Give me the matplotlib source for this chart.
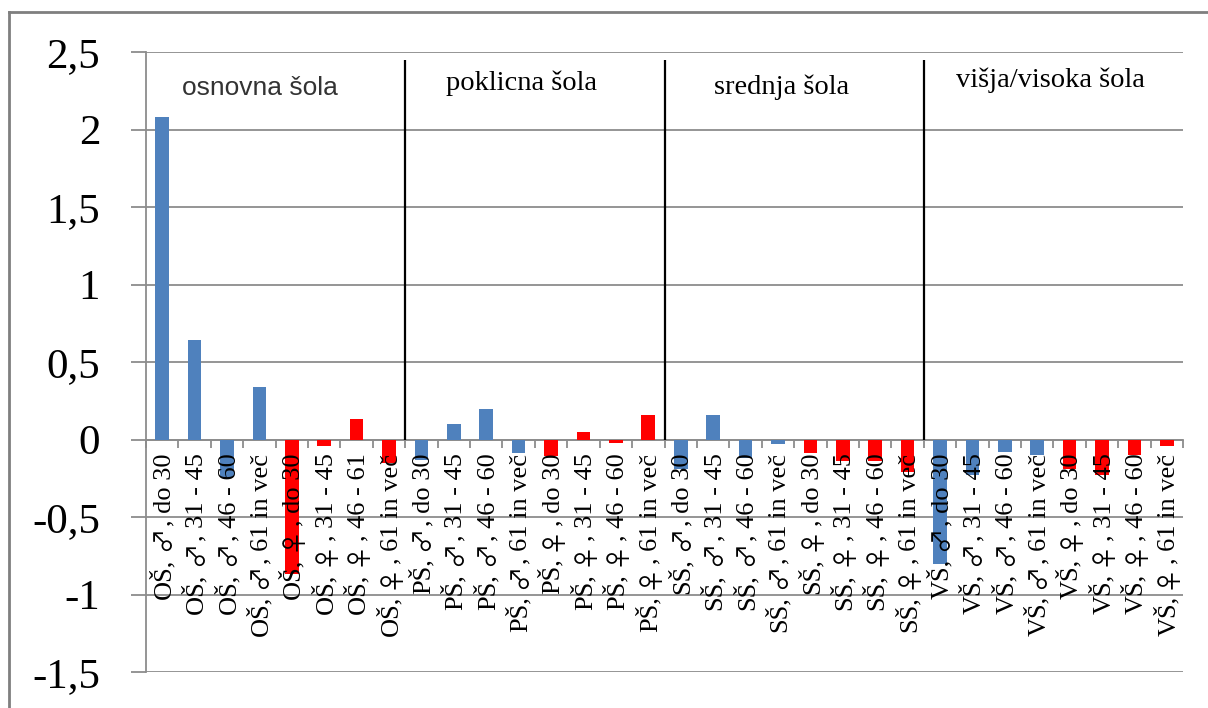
"""Bar chart of deviations by school level, sex and age group."""
import matplotlib
matplotlib.use("Agg")
import matplotlib.pyplot as plt
from matplotlib.lines import Line2D
from matplotlib.font_manager import FontProperties
from matplotlib.ticker import FixedLocator

# data
levels = ["OŠ", "PŠ", "SŠ", "VŠ"]
level_titles = ["osnovna šola", "poklicna šola", "srednja šola", "višja/visoka šola"]
sexes = ["♂", "♂", "♂", "♂", "♀", "♀", "♀", "♀"]
ages_os = ["do 30", "31 - 45", "46 - 60", "61 in več", "do 30", "31 - 45", "46 - 61", "61 in več"]
ages = ["do 30", "31 - 45", "46 - 60", "61 in več", "do 30", "31 - 45", "46 - 60", "61 in več"]

os_vals = [2.08, 0.64, -0.245, 0.34, -0.87, -0.04, 0.135, -0.15]
ps_vals = [-0.135, 0.10, 0.20, -0.085, -0.105, 0.05, -0.02, 0.16]
ss_vals = [-0.19, 0.16, -0.12, -0.03, -0.085, -0.14, -0.14, -0.21]
vs_vals = [-0.80, -0.23, -0.08, -0.10, -0.19, -0.23, -0.10, -0.04]

y_ticks = [2.5, 2, 1.5, 1, 0.5, 0, -0.5, -1, -1.5]
y_labels = ["2,5", "2", "1,5", "1", "0,5", "0", "-0,5", "-1", "-1,5"]

BLUE = "#4f81bd"
RED = "#ff0000"
GRID = "#8c8c8c"
SERIF = ["Liberation Serif", "DejaVu Serif"]
LABEL_SIZE = 19

label_parts = []
values = []
colors = []
for lvl, vals in zip(levels, [os_vals, ps_vals, ss_vals, vs_vals]):
    age_list = ages_os if lvl == "OŠ" else ages
    for i, (s, a, v) in enumerate(zip(sexes, age_list, vals)):
        label_parts.append((f"{lvl},", s, f", {a}"))
        values.append(v)
        colors.append(BLUE if i < 4 else RED)

n = len(values)
x = list(range(n))

fig = plt.figure(figsize=(12.08, 7.08), dpi=100)
ax = fig.add_axes([146 / 1208, 1 - 672 / 708, (1183 - 146) / 1208, (672 - 52) / 708])

ax.bar(x, values, width=0.42, color=colors, zorder=3)

ax.set_xlim(-0.5, n - 0.5)
ax.set_ylim(-1.5, 2.5)

# y axis
ax.set_yticks(y_ticks)
ax.set_yticklabels(y_labels, family=SERIF, fontsize=31)
ax.tick_params(axis="y", direction="out", length=11, width=1.3, color=GRID, pad=22)
ax.yaxis.grid(True, color=GRID, linewidth=1.3, zorder=0)
ax.set_axisbelow(True)

# category axis crossing at zero
ax.spines["bottom"].set_position(("data", 0))
ax.spines["bottom"].set_color(GRID)
ax.spines["bottom"].set_linewidth(1.3)
ax.spines["left"].set_color(GRID)
ax.spines["left"].set_linewidth(1.3)
ax.spines["top"].set_visible(False)
ax.spines["right"].set_visible(False)

ax.set_xticks(x)
ax.set_xticklabels([])
ax.tick_params(axis="x", which="major", length=0)
ax.xaxis.set_minor_locator(FixedLocator([i - 0.5 for i in range(n + 1)]))
ax.tick_params(axis="x", which="minor", direction="out", length=6, width=1.3, color=GRID)

# category labels: rotated text, gender sign in a font with larger glyphs
txt_prop = FontProperties(family=SERIF, size=LABEL_SIZE)
sym_prop = FontProperties(family=["Noto Sans CJK JP", "DejaVu Sans"], size=LABEL_SIZE * 0.95)
renderer = fig.canvas.get_renderer()


def text_width(s, prop):
    w, _, _ = renderer.get_text_width_height_descent(s, prop, ismath=False)
    return w


space = text_width("a b", txt_prop) - text_width("ab", txt_prop)
top_pad = 14      # pixels below the zero line
base_shift = 8    # baseline offset to the right of the category centre
for xi, (head, sym, tail) in zip(x, label_parts):
    offset = top_pad
    pieces = [(tail, txt_prop, 0), (sym, sym_prop, 1), (head, txt_prop, 0)]
    for k, (s, prop, is_sym) in enumerate(pieces):
        ax.annotate(s, xy=(xi, 0), xycoords="data",
                    xytext=(base_shift, -offset), textcoords="offset pixels",
                    rotation=90, rotation_mode="anchor", ha="right", va="baseline",
                    fontproperties=prop, color="black", zorder=6,
                    annotation_clip=False)
        offset += text_width(s, prop)
        if k == 1:
            offset += space
        if is_sym:
            offset += 1

# section separators and titles
for k in range(1, 4):
    ax.vlines(k * 8 - 0.5, 0, 2.45, color="black", linewidth=1.6, zorder=4)

title_x = [3.02, 11.1, 19.1, 27.4]
title_y = [2.27, 2.30, 2.27, 2.32]
for k, (t, tx, ty) in enumerate(zip(level_titles, title_x, title_y)):
    if k == 0:
        ax.text(tx, ty, t, ha="center", va="center", fontsize=19,
                family=["Liberation Sans", "DejaVu Sans"], color="#333333")
    else:
        ax.text(tx, ty, t, ha="center", va="center", fontsize=20.5,
                family=SERIF, color="black")

# outer chart frame (cropped on the right and bottom)
fig.add_artist(Line2D([9 / 1208, 9 / 1208], [1 - 12 / 708, 0], transform=fig.transFigure,
                      color="#7f7f7f", linewidth=2))
fig.add_artist(Line2D([9 / 1208, 1], [1 - 12 / 708, 1 - 12 / 708], transform=fig.transFigure,
                      color="#7f7f7f", linewidth=2))

fig.savefig("out.png", dpi=100)
